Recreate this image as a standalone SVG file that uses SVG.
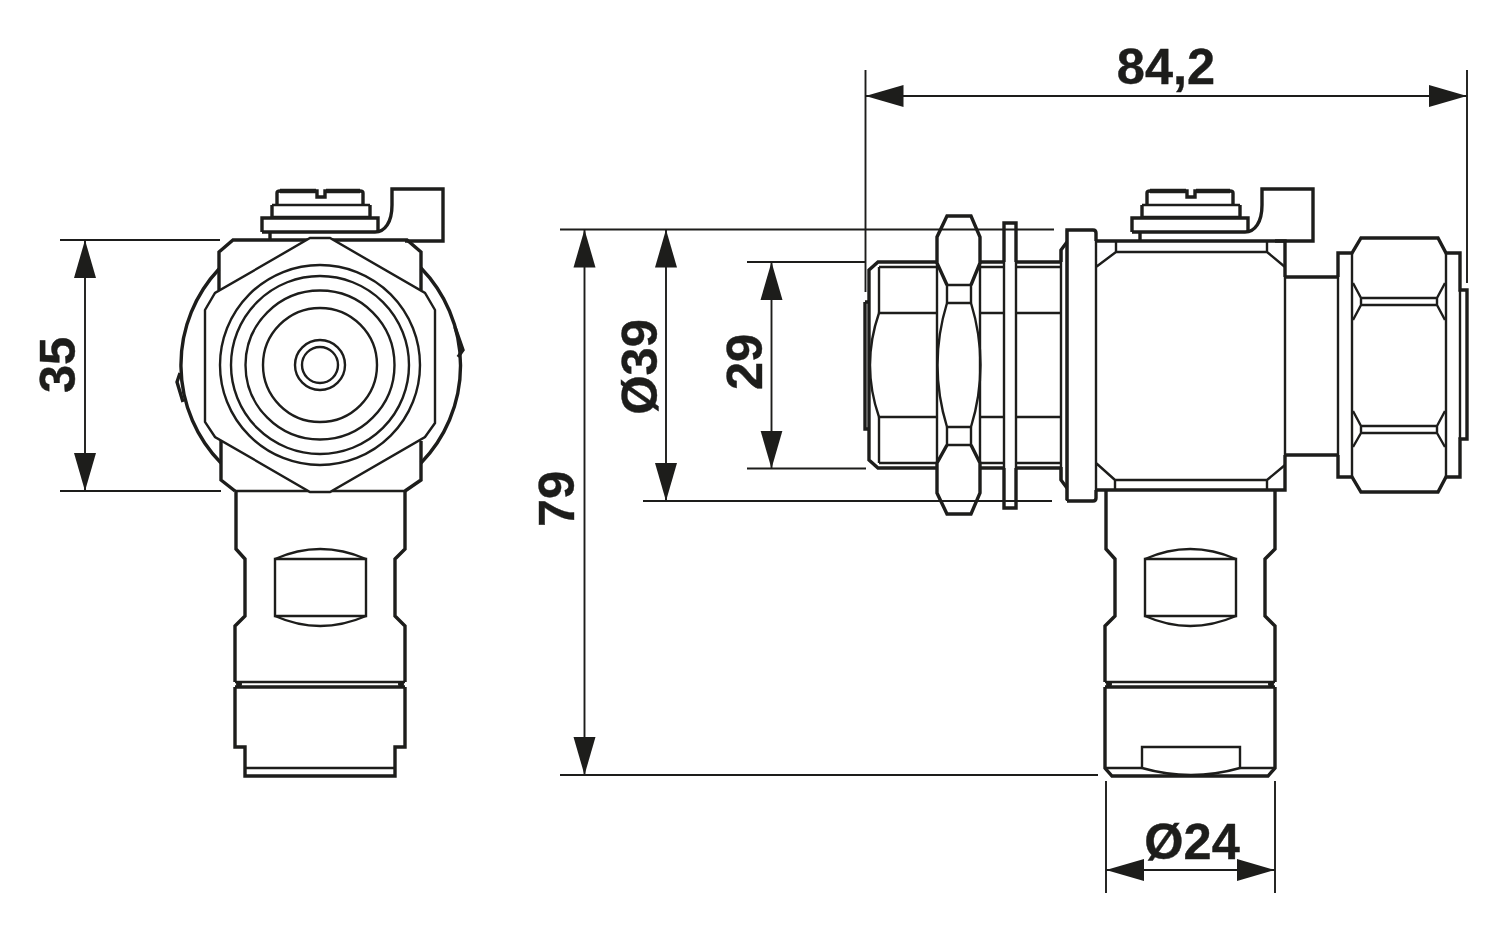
<svg xmlns="http://www.w3.org/2000/svg" width="1500" height="937" viewBox="0 0 1500 937">
<style>
.k{fill:none;stroke:#1d1d1b;stroke-width:3.4;stroke-linejoin:miter;stroke-linecap:butt}
.m{fill:none;stroke:#1d1d1b;stroke-width:2.4;stroke-linejoin:miter}
.w{fill:#fff}
.h{fill:none;stroke:#1d1d1b;stroke-width:4.6}
.d{fill:none;stroke:#1d1d1b;stroke-width:1.9}
.a{fill:none;stroke:#1d1d1b;stroke-width:1.9;marker-start:url(#arrow);marker-end:url(#arrow)}
.t{font-family:"Liberation Sans",Arial,sans-serif;font-weight:700;font-size:50.5px;fill:#1d1d1b;stroke:#1d1d1b;stroke-width:.4;text-anchor:middle}
</style>
<defs>
<marker id="arrow" markerUnits="userSpaceOnUse" markerWidth="40" markerHeight="24" refX="38" refY="12" orient="auto-start-reverse">
<path d="M0,1 L38,12 L0,23 Z" fill="#1d1d1b"/>
</marker>
<g id="screw">
<path class="k" d="M277,205 V193 Q277,191 280,191 H317 V197 H325 V191 H360 Q363,191 363,193 V205"/>
<path class="h" d="M280,191 H316 M326,191 H360"/>
<path class="m" d="M272,205 H370"/>
<path class="k" d="M272,217 V205 M370,205 V217"/>
<path class="m" d="M272,217 H370"/>
<path class="k" d="M378,232 V218 H262 V232"/>
<path class="k" d="M262,232 H375 C385,232 392,222 392,205 V189 H443 V241 H405"/>
<path class="k" d="M270,232 V241"/>
</g>
<g id="stem">
<path class="k" d="M236,491 V549 L245,559 V616 L235,626 V682 M405,491 V549 L395,559 V616 L405,626 V682"/>
<path class="m" d="M235,682 H405"/>
<path class="k" d="M235,687 H405"/>
<circle cx="239" cy="684" r="3" fill="#1d1d1b"/>
<circle cx="401" cy="684" r="3" fill="#1d1d1b"/>
<path class="m" d="M275,559 H366 V616 H275 Z"/>
<path class="m" d="M275,559 Q320,539 366,559 M275,616 Q320,636 366,616"/>
</g>
</defs>
<rect width="1500" height="937" fill="#fff"/>
<g id="front-view">
<path class="k" d="M219,269 A140,140 0 0 0 221,463 M421,268 A140,140 0 0 1 421,463"/>
<path class="k" d="M180,373 L177,382 L183,402 M455,327 L463,350 L458,357"/>
<path class="k" d="M219,290 V252 L233,240 H407 L421,252 V290 M221,440 V480 L235,491 M421,441 V480 L405,491"/>
<path class="m" d="M235,491 H405"/>
<path class="m w" d="M310,238 H330 L425,293 L435,310 V423 L425,437 L330,492 H310 L215,437 L205,422 V310 L215,293 Z"/>
<circle class="m" cx="320" cy="365" r="100"/>
<circle class="m" cx="320" cy="365" r="89"/>
<circle class="m" cx="320" cy="365" r="74.5"/>
<circle class="m" cx="320" cy="365" r="57"/>
<circle class="m" cx="320" cy="365" r="25"/>
<circle class="m" cx="320" cy="365" r="18"/>
<use href="#screw"/>
<use href="#stem"/>
<path class="k" d="M235,687 V747 H245 V776 H395 V747 H405 V687"/>
<path class="m" d="M245,768 H395"/>
</g>
<g id="side-view">
<use href="#screw" x="870"/>
<use href="#stem" x="870"/>
<path class="k" d="M1105,687 V768 L1112,776 H1268 L1275,768 V687"/>
<path class="m" d="M1106,768 H1142 M1240,768 H1275 M1142,768 V747 H1240 V768"/>
<path class="m" d="M1142,768 Q1191,782 1240,768"/>
<path class="k" d="M1097,241 H1285 V277 M1285,455 V490 H1097"/>
<path class="m" d="M1285,277 V455 M1096,241 V490 M1116,241 V252 M1267,241 V252 M1116,252 H1267 M1116,252 L1096,267 M1267,252 L1285,267 M1115,480 H1267 M1115,480 V490 M1267,480 V490 M1115,480 L1096,463 M1267,480 L1285,465"/>
<path class="k" d="M1285,277 H1338 M1285,455 H1338"/>
<path class="k" d="M1338,277 V253 H1352 L1361,238 H1438 L1446,253 H1460 V290 H1467 V439 H1460 V477 H1446 L1438,492 H1361 L1352,477 H1338 V455"/>
<path class="m" d="M1338,277 V455 M1352,253 V477 M1446,253 V477 M1460,290 V439"/>
<path class="m" d="M1361,298 H1437 M1361,305 H1437 M1361,426 H1437 M1361,433 H1437 M1361,298 V305 M1437,298 V305 M1361,426 V433 M1437,426 V433 M1353,283 L1361,298 M1361,305 L1353,320 M1445,283 L1437,298 M1437,305 L1445,320 M1353,411 L1361,426 M1361,433 L1353,447 M1445,411 L1437,426 M1437,433 L1445,447"/>
<path class="k" d="M937,262 H878 L869,270 V460 L878,468 H937 M980,262 H1004 M1015,262 H1061 M980,468 H1004 M1015,468 H1061"/>
<path class="k" d="M865,302 H869 M865,302 V429 H869"/>
<path class="m" d="M879,267 H937 M980,267 H1004 M1015,267 H1061 M879,463 H937 M980,463 H1004 M1015,463 H1061 M879,267 V313 M879,417 V463 M879,313 H937 M980,313 H1004 M1015,313 H1061 M879,417 H937 M980,417 H1004 M1015,417 H1061 M1061,250 V480"/>
<path class="m" d="M879,313 Q861,365 879,417"/>
<path class="k" d="M947,285 L937,263 V237 L947,216 H971 L980,237 V263 L971,285"/>
<path class="k" d="M947,445 L937,463 V493 L947,514 H971 L980,493 V463 L971,445"/>
<path class="m" d="M947,285 H971 M947,303 H971 M947,427 H971 M947,445 H971 M947,285 V303 M971,285 V303 M947,427 V445 M971,427 V445 M937,263 V463 M980,263 V463"/>
<path class="m" d="M947,303 Q928,365 947,427 M971,303 Q990,365 971,427"/>
<path class="k" d="M1004,262 V223 H1016 V262 M1004,468 V508 H1016 V468"/>
<path class="m" d="M1004,262 V468 M1016,262 V468"/>
<path class="k" d="M1067,242 L1061,250 V262 M1061,467 V480 L1067,488"/>
<path class="k" d="M1067,500 V230 H1093 Q1096,230 1096,233 V241 M1096,490 V498 Q1096,501 1093,501 H1067"/>
<path class="m" d="M1067,230 V501"/>
</g>
<g id="connectors">
<path class="d" d="M60,240 H220 M60,491 H221 M560,229.500 H1054 M560,775 H1098 M643,501 H1052 M747,262 H866 M747,468.500 H866 M865.500,70 V292 M1467,70 V283 M1106,781 V893 M1275,781 V893"/>
<line class="a" x1="85" y1="240" x2="85" y2="491"/>
<line class="a" x1="584.500" y1="229.500" x2="584.500" y2="775"/>
<line class="a" x1="666" y1="229.500" x2="666" y2="501"/>
<line class="a" x1="771.500" y1="262" x2="771.500" y2="468.500"/>
<line class="a" x1="865.500" y1="96" x2="1467" y2="96"/>
<line class="a" x1="1106" y1="870" x2="1275" y2="870"/>
</g>
<g id="labels">
<text class="t" x="1166" y="84">84,2</text>
<text class="t" x="1192" y="859">Ø24</text>
<text class="t" transform="translate(75,365) rotate(-90)">35</text>
<text class="t" transform="translate(574,499) rotate(-90)">79</text>
<text class="t" transform="translate(657,367) rotate(-90)">Ø39</text>
<text class="t" transform="translate(762,362) rotate(-90)">29</text>
</g>
</svg>
